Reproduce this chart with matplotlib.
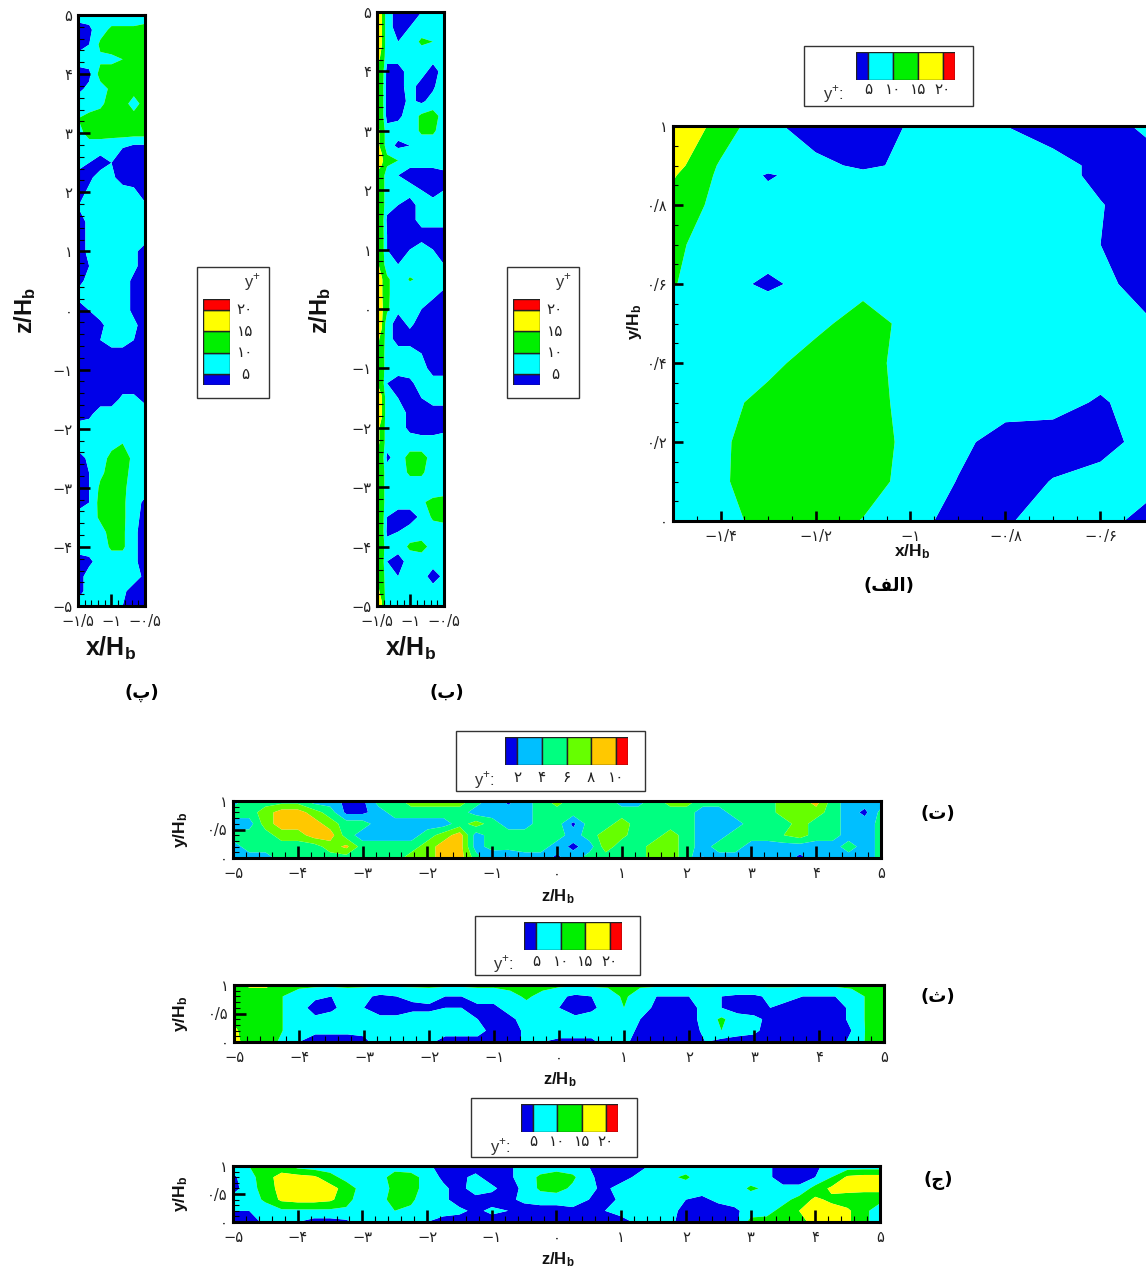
import numpy as np
import matplotlib
matplotlib.use('Agg')
import matplotlib.pyplot as plt
from matplotlib.patches import Rectangle

plt.rcParams['font.family'] = ['DejaVu Sans']
plt.rcParams['mathtext.fontset'] = 'custom'
plt.rcParams['mathtext.bf'] = 'Liberation Sans:bold'
plt.rcParams['mathtext.rm'] = 'Liberation Sans'

W, H = 1146, 1270

levels_a = [5, 10, 15, 20]
levels_b = [2, 4, 6, 8, 10]
colors_a = ['#0000e8', '#00ffff', '#00f000', '#ffff00', '#ff0000']
colors_b = ['#0000e8', '#00bfff', '#00ff80', '#66ff00', '#ffc800', '#ff0000']
labels_a = ['۵', '۱۰', '۱۵', '۲۰']
labels_b = ['۲', '۴', '۶', '۸', '۱۰']

# panel alef
alef_x = [-1.5, -1.4, -1.3, -1.2, -1.1, -1.0, -0.9, -0.8, -0.7, -0.6, -0.5]
alef_y = [1, 0.9, 0.875, 0.8, 0.7, 0.6, 0.5, 0.4, 0.3, 0.2, 0.1, 0]
alef_v = [
    [20, 13, 6, 3, 2, 5.5, 7, 5, 3, 3, 6],
    [17, 9.4, 7, 6, 4.3, 5.8, 7, 7, 6.5, 4, 3],
    [15.5, 9, 4.5, 7, 6, 7, 7, 7, 6.5, 4, 3],
    [13, 8.5, 7, 7, 7, 7, 7, 7, 7, 5.2, 3],
    [11, 7.5, 7.8, 7, 7, 7, 7, 7, 7, 5, 3],
    [10.3, 7, 4, 7, 8.5, 7.5, 7, 7, 7, 6.2, 3],
    [7, 7, 9.3, 8.8, 12, 8.7, 7, 7, 7, 7, 5.5],
    [7, 7, 8.7, 12, 12, 8, 7, 7, 7, 7, 7],
    [7, 8.5, 11.5, 12, 12, 8.5, 7, 7, 6.5, 4.5, 7],
    [7, 9.4, 12, 12, 12, 9, 6.2, 3, 3, 3, 7],
    [7, 9.5, 12, 12, 12, 8.5, 4.8, 3, 5.2, 7, 7],
    [7, 8, 12, 12, 9.8, 7, 3, 4.5, 7, 7, 3],
]

# tall panels
tall_z = np.linspace(5, -5, 41)
pe_x = np.linspace(-1.5, -0.5, 7)
pe_v = [
    [7, 7, 10, 7, 7, 7, 7],
    [3, 4, 8, 11, 11, 11, 12],
    [3, 5, 11, 12, 12, 12, 12],
    [7, 7, 9, 9, 10, 12, 12],
    [3, 4, 12, 12, 12, 12, 12],
    [4, 6, 8, 11, 12, 12, 12],
    [7, 7, 9, 12, 12, 8, 12],
    [10, 12, 12, 12, 12, 12, 12],
    [8, 12, 12, 12, 12, 12, 12],
    [7, 7, 7, 6, 5, 3, 3],
    [7, 5, 3, 5, 3, 3, 3],
    [3, 4, 7, 6, 3, 3, 3],
    [3, 6, 7, 7, 7, 6, 3],
    [5, 7, 7, 7, 7, 7, 6],
    [3, 6, 7, 7, 7, 7, 7],
    [3, 6, 7, 7, 7, 7, 7],
    [3, 6, 7, 7, 7, 6, 3],
    [3, 5, 7, 7, 7, 6, 3],
    [4, 6, 7, 7, 7, 4, 3],
    [6, 7, 7, 7, 7, 4, 3],
    [3, 5, 7, 7, 7, 4, 3],
    [3, 3, 4, 7, 7, 6, 3],
    [3, 3, 5, 7, 7, 5, 3],
    [3, 3, 3, 3, 3, 3, 3],
    [3, 3, 3, 3, 3, 3, 3],
    [3, 3, 3, 3, 3, 3, 3],
    [3, 3, 3, 3, 6, 6, 4],
    [3, 4, 7, 7, 7, 7, 7],
    [7, 7, 7, 7, 7, 7, 7],
    [7, 7, 7, 8, 10, 9, 7],
    [3, 6, 7, 12, 12, 9, 7],
    [3, 5, 9, 12, 12, 8, 7],
    [3, 5, 11, 12, 11, 8, 7],
    [3, 5, 12, 12, 11, 7, 4],
    [7, 7, 11, 12, 11, 7, 3],
    [7, 7, 8, 12, 11, 6, 3],
    [7, 7, 7, 11, 11, 6, 3],
    [3, 4, 7, 7, 7, 6, 3],
    [3, 7, 7, 7, 7, 7, 4],
    [3, 7, 7, 7, 6, 3, 3],
    [7, 7, 7, 7, 5, 3, 3],
]

be_x = [-1.5, -1.43, -1.35, -1.185, -1.01, -0.835, -0.665, -0.5]
be_v = [
    [18, 15.5, 7, 3, 4, 5, 5, 7],
    [18, 15.5, 7, 3, 5, 7, 7, 7],
    [18, 15.5, 7, 5, 7, 11, 10, 7],
    [17, 14, 7, 7, 7, 7, 7, 7],
    [15, 14, 3, 3, 7, 7, 3, 7],
    [14, 13, 3, 3, 7, 3, 4, 9],
    [14, 13, 3, 3, 6, 4, 7, 9],
    [15, 13, 3, 4, 7, 11, 12, 8],
    [16, 14, 7, 7, 7, 11, 11, 7],
    [16, 14, 7, 4, 5, 7, 7, 7],
    [18, 16, 12, 10, 7, 7, 7, 7],
    [14, 13, 7, 5, 3, 3, 3, 4],
    [15, 13, 7, 7, 7, 5, 3, 5],
    [16, 13, 7, 5, 3, 7, 7, 7],
    [15, 13, 4, 3, 3, 7, 7, 7],
    [15, 13, 5, 3, 3, 3, 3, 3],
    [15, 13, 5, 3, 5, 7, 5, 3],
    [16, 13, 7, 5, 7, 7, 7, 5],
    [18, 15.5, 11, 7, 10.5, 9, 7, 7],
    [18, 15.5, 11, 7, 7, 7, 6, 4],
    [18, 16, 11, 6, 7, 5, 3, 3],
    [18, 15.5, 7, 3, 6, 3, 3, 3],
    [16, 14, 7, 3, 3, 3, 3, 3],
    [15, 13, 7, 7, 7, 5, 3, 3],
    [14, 13, 7, 7, 7, 7, 3, 3],
    [15, 13, 5, 3, 4, 7, 7, 7],
    [18, 15.5, 7, 5, 3, 5, 7, 7],
    [18, 15.5, 7, 7, 4, 3, 3, 3],
    [16, 14, 7, 7, 4, 3, 3, 4],
    [16, 14, 7, 7, 7, 7, 7, 7],
    [15, 13, 4, 7, 12, 12, 8, 7],
    [15, 13, 7, 7, 11, 11, 7, 7],
    [16, 13, 7, 7, 7, 7, 5, 7],
    [15, 13, 7, 7, 7, 9, 12, 12],
    [15, 13, 5, 3, 3, 6, 11, 12],
    [15, 13, 4, 5, 7, 7, 7, 7],
    [15, 13, 7, 7, 11, 12, 8, 7],
    [15, 13, 5, 3, 7, 7, 7, 7],
    [15, 13, 7, 5, 7, 7, 3, 6],
    [16, 14, 7, 7, 7, 7, 7, 7],
    [18, 15.5, 7, 7, 7, 7, 7, 7],
]

# wide panels
wide_z = np.linspace(-5, 5, 41)
wide_y = [1, 0.8, 0.6, 0.4, 0.2, 0]
te_v = [
    [3, 5, 5, 5, 5, 3, 3, 1.5, 1.5, 5, 5, 7, 7, 7, 7, 5, 3, 1.5, 3, 5, 7, 5, 5, 5, 3, 3, 5, 7, 7, 5, 5, 5, 5, 5, 7, 7, 9, 5, 3, 3, 3],
    [5, 5, 7, 9, 9, 7, 5, 1.5, 1.5, 3, 5, 5, 5, 5, 5, 3, 3, 3, 3, 5, 5, 5, 5, 5, 5, 5, 5, 5, 5, 3, 3, 5, 5, 5, 7, 7, 7, 5, 3, 1.5, 4.6],
    [3, 3, 7, 9, 9, 9, 7, 5, 5, 3, 3, 3, 3, 3, 5, 7, 5, 3, 3, 5, 5, 1.5, 5, 5, 7, 5, 5, 5, 5, 3, 3, 3, 5, 5, 5, 7, 5, 5, 3, 3, 4.6],
    [5, 5, 5, 7, 7, 9, 9, 5, 3, 3, 3, 3, 5, 7, 9, 3, 5, 5, 5, 5, 5, 3, 5, 7, 6.5, 5, 5, 7, 5, 3, 3, 5, 5, 5, 6, 7, 5, 5, 3, 3, 4.6],
    [3, 5, 5, 5, 5, 5, 7, 8.5, 5, 5, 5, 5, 7, 9, 9, 3, 5, 5, 5, 5, 3, 1.5, 3, 7, 5, 5, 7, 7, 5, 3, 5, 5, 3, 3, 3, 3, 3, 3, 5, 3, 4.6],
    [3, 3, 3, 5, 5, 5, 5, 5, 5, 5, 5, 7, 7, 9, 9, 5, 2, 1.5, 3, 3, 1.5, 3, 5, 5, 5, 5, 7, 7, 5, 1.8, 3, 3, 3, 3, 3, 1.5, 3, 3, 3, 3, 4.6],
]
the_v = [
    [14, 16, 16, 12, 11, 11, 11, 11, 11, 11, 11, 11, 11, 11, 11, 11, 11, 12, 13, 12, 11, 11, 11, 11, 11, 11, 11, 11, 11, 11, 11, 11, 11, 11, 11, 11, 11, 11, 12, 14, 12],
    [12, 12, 12, 10, 8, 6, 5, 7, 6, 4, 5, 6, 7, 5, 5, 7, 7, 8, 11, 8, 6, 4, 5, 7, 11, 7, 5, 5, 5, 6, 5, 4, 4, 6, 6, 5, 5, 5, 6, 11, 12],
    [12, 12, 12, 10, 7, 3, 4, 7, 5, 3, 3, 4, 4, 5, 5, 4, 4, 7, 8, 7, 5, 3, 4, 7, 10, 7, 4, 3, 3, 7, 5, 3, 3, 5, 4, 3, 3, 3, 6, 11, 12],
    [14, 12, 12, 10, 7, 6, 7, 7, 7, 6, 6, 7, 7, 7, 7, 5, 3, 4, 7, 7, 7, 6, 7, 7, 7, 5, 3, 3, 3, 7, 11, 7, 6, 4, 3, 3, 3, 3, 6, 11, 12],
    [16, 12, 12, 10, 7, 6, 6, 6, 6, 7, 7, 7, 7, 7, 7, 7, 3, 3, 6, 7, 7, 7, 7, 9, 7, 4, 3, 3, 3, 6, 10, 7, 6, 3, 3, 3, 3, 3, 5, 11, 12],
    [17, 12, 12, 9, 5, 3, 3, 3, 4, 7, 7, 7, 6, 3, 3, 3, 3, 3, 6, 5, 4, 4, 4, 7, 6, 3, 3, 3, 3, 5, 3, 3, 3, 3, 3, 3, 3, 3, 6, 11, 12],
]
jim_v = [
    [7, 10, 12, 12, 8, 7, 7, 7, 7, 9, 8, 7, 6, 3, 3, 3, 3, 4, 7, 7, 7, 7, 5, 3, 3, 3, 6, 10, 7, 7, 7, 7, 7, 6, 3, 3, 4, 7, 7, 7, 7],
    [4, 8, 13, 17, 17, 16, 12, 8, 7, 8, 12, 12, 8, 4, 4, 6, 3, 4, 7, 11, 13, 11, 6, 3, 3, 6, 7, 9, 11, 7, 7, 7, 7, 6, 3, 3, 5, 10, 16, 17, 17],
    [3, 8, 12, 17, 18, 18, 17, 13, 8, 8, 11, 12, 8, 6, 3, 8, 6, 3, 6, 11, 12, 9, 6, 4, 7, 7, 6, 7, 7, 7, 7, 7, 11, 9, 6, 6, 12, 16, 17, 17, 17],
    [7, 7, 11, 16, 17, 17, 16, 12, 7, 8, 12, 11, 7, 6, 3, 3, 3, 4, 6, 7, 7, 7, 5, 3, 6, 7, 7, 7, 5, 4, 6, 7, 7, 7, 8, 12, 16, 14, 12, 11, 11],
    [5, 5, 7, 9, 9, 9, 9, 9, 7, 7, 10, 9, 7, 7, 6, 4, 6, 5, 3, 3, 3, 4, 4, 5, 7, 7, 6, 6, 4, 3, 3, 4, 7, 8, 12, 15, 17, 17, 16, 11, 8],
    [3, 3, 6, 7, 5, 3, 3, 4, 7, 7, 7, 7, 5, 3, 3, 3, 3, 3, 3, 3, 3, 3, 3, 3, 3, 6, 7, 6, 3, 3, 3, 3, 12, 12, 12, 14, 16, 17, 16, 11, 8],
]


def px_axes(fig, l, t, r, b):
    return fig.add_axes([l / W, 1 - b / H, (r - l) / W, (b - t) / H])


def draw_field(ax, x, y, v, levels, colors):
    ax.contourf(x, y, np.array(v, dtype=float), levels=levels, colors=colors,
                extend='both', antialiased=True)
    for s in ax.spines.values():
        s.set_linewidth(2.2)
        s.set_zorder(5)


def set_ticks(ax, xt, xl, xm, yt, yl, ym, size, maj=8.6, mnr=4.6):
    ax.set_xticks(xt)
    ax.set_xticklabels(xl)
    ax.set_yticks(yt)
    ax.set_yticklabels(yl)
    ax.set_xticks(xm, minor=True)
    ax.set_yticks(ym, minor=True)
    ax.tick_params(which='major', direction='in', length=maj, width=1.9, labelsize=size,
                   labelcolor='#222222')
    ax.tick_params(which='minor', direction='in', length=mnr, width=0.8)
    ax.tick_params(axis='x', which='major', pad=6)
    ax.tick_params(axis='y', which='major', pad=4)


def bold_label(x, y, s, size, rot=0):
    fig.text(x / W, 1 - y / H, s, fontsize=size, rotation=rot, ha='center', va='center',
             color='#111111')


def box(l, t, r, b):
    fig.add_artist(Rectangle((l / W, 1 - b / H), (r - l) / W, (b - t) / H, transform=fig.transFigure,
                             fc='white', ec='#333333', lw=1, zorder=-1))


def legend_h(l, t, r, b, colors, labels, lab_y, yp_x, yp_y):
    # horizontal key, end cells are half width
    ax = px_axes(fig, l, t, r, b)
    n = len(colors)
    edges = np.arange(n + 1) - 0.5
    edges[0] = 0
    edges[-1] = n - 1
    for i, c in enumerate(colors):
        ax.barh(0, edges[i + 1] - edges[i], left=edges[i], color=c, edgecolor='#222222', lw=1, height=1)
    ax.set_xlim(0, n - 1)
    ax.set_ylim(-0.5, 0.5)
    ax.axis('off')
    for i, s in enumerate(labels):
        fig.text((l + (i + 0.5) * (r - l) / (n - 1)) / W, 1 - lab_y / H, s, fontsize=11, ha='center',
                 va='center', color='#222222')
    fig.text(yp_x / W, 1 - yp_y / H, 'y$^{+}$:', fontsize=12, ha='center', va='center', color='#333333',
             family='Liberation Sans')


def legend_v(l, t, r, b, colors, labels, lab_x, yp_x, yp_y):
    ax = px_axes(fig, l, t, r, b)
    n = len(colors)
    edges = np.arange(n + 1) - 0.5
    edges[0] = 0
    edges[-1] = n - 1
    for i, c in enumerate(colors):
        ax.bar(0, edges[i + 1] - edges[i], bottom=edges[i], color=c, edgecolor='#222222', lw=1, width=1)
    ax.set_ylim(0, n - 1)
    ax.set_xlim(-0.5, 0.5)
    ax.axis('off')
    for i, s in enumerate(labels):
        fig.text(lab_x / W, 1 - (b - (i + 0.5) * (b - t) / (n - 1)) / H, s, fontsize=11, ha='center',
                 va='center', color='#222222')
    fig.text(yp_x / W, 1 - yp_y / H, 'y$^{+}$', fontsize=12, ha='center', va='center', color='#333333',
             family='Liberation Sans')


fig = plt.figure(figsize=(W / 100, H / 100), dpi=100, facecolor='white')

tall_ticks = [5, 4, 3, 2, 1, 0, -1, -2, -3, -4, -5]
tall_labels = ['۵', '۴', '۳', '۲', '۱', '۰', '−۱', '−۲', '−۳', '−۴', '−۵']
tall_xt = [-1.5, -1, -0.5]
tall_xl = ['−۱/۵', '−۱', '−۰/۵']
wide_ticks = [-5, -4, -3, -2, -1, 0, 1, 2, 3, 4, 5]
wide_labels = ['−۵', '−۴', '−۳', '−۲', '−۱', '۰', '۱', '۲', '۳', '۴', '۵']
wide_yt = [0, 0.5, 1]
wide_yl = ['۰', '۰/۵', '۱']

# tall panels
for x, v, pos, xlab, zlab, tag, tagpos in [
    (pe_x, pe_v, (78, 15, 145, 606), 111, 25, '(پ)', 142),
    (be_x, be_v, (377, 12, 444, 606), 411, 320, '(ب)', 447),
]:
    ax = px_axes(fig, *pos)
    draw_field(ax, x, tall_z, v, levels_a, colors_a)
    set_ticks(ax, tall_xt, tall_xl, np.arange(-1.5, -0.45, 0.1), tall_ticks, tall_labels,
              np.arange(-5, 5.1, 0.2), 10.5)
    bold_label(xlab, 648, r'$\mathbf{x/H_b}$', 18)
    bold_label(zlab, 310, r'$\mathbf{z/H_b}$', 17, rot=90)
    fig.text(tagpos / W, 1 - 693 / H, tag, fontsize=13, ha='center', va='center', fontweight='bold')

box(197, 267, 269, 398)
legend_v(203, 299, 230, 385, colors_a, labels_a, 245, 252, 282)
box(507, 267, 579, 398)
legend_v(513, 299, 540, 385, colors_a, labels_a, 555, 563, 282)

# panel alef
ax = px_axes(fig, 673, 126, 1148, 521)
draw_field(ax, alef_x, alef_y, alef_v, levels_a, colors_a)
set_ticks(ax, [-1.4, -1.2, -1, -0.8, -0.6], ['−۱/۴', '−۱/۲', '−۱', '−۰/۸', '−۰/۶'],
          np.arange(-1.5, -0.45, 0.05), [0, 0.2, 0.4, 0.6, 0.8, 1],
          ['۰', '۰/۲', '۰/۴', '۰/۶', '۰/۸', '۱'], np.arange(0, 1.01, 0.05), 10.5, maj=7, mnr=3.6)
bold_label(912, 552, r'$\mathbf{x/H_b}$', 12.5)
bold_label(634, 322, r'$\mathbf{y/H_b}$', 12.5, rot=90)
fig.text(889 / W, 1 - 586 / H, '(\ufed2\ufedf\u0627)', fontsize=13, ha='center', va='center', fontweight='bold')
box(804, 46, 973, 106)
legend_h(856, 52, 955, 80, colors_a, labels_a, 90, 833, 94)

# wide panels
wide_panels = [
    (te_v, levels_b, colors_b, (233, 801, 881, 858), 897, '(ت)', 814),
    (the_v, levels_a, colors_a, (234, 985, 884, 1042), 1080, '(ث)', 997),
    (jim_v, levels_a, colors_a, (233, 1166, 880, 1222), 1260, '(ج)', 1181),
]
for v, lev, cols, pos, lab_y, tag, tag_y in wide_panels:
    ax = px_axes(fig, *pos)
    draw_field(ax, wide_z, wide_y, v, lev, cols)
    set_ticks(ax, wide_ticks, wide_labels, np.arange(-5, 5.1, 0.2), wide_yt, wide_yl,
              np.arange(0, 1.01, 0.1), 10.5)
    bold_label((pos[0] + pos[2]) / 2 + 1, lab_y, r'$\mathbf{z/H_b}$', 12)
    bold_label(181, (pos[1] + pos[3]) / 2, r'$\mathbf{y/H_b}$', 12.5, rot=90)
    fig.text(938 / W, 1 - tag_y / H, tag, fontsize=13, ha='center', va='center', fontweight='bold')

box(456, 731, 645, 791)
legend_h(505, 737, 628, 765, colors_b, labels_b, 777, 484, 780)
box(475, 916, 640, 975)
legend_h(524, 922, 622, 950, colors_a, labels_a, 961, 503, 964)
box(471, 1098, 637, 1157)
legend_h(521, 1104, 618, 1132, colors_a, labels_a, 1142, 500, 1147)

fig.savefig('out.png', dpi=100)
